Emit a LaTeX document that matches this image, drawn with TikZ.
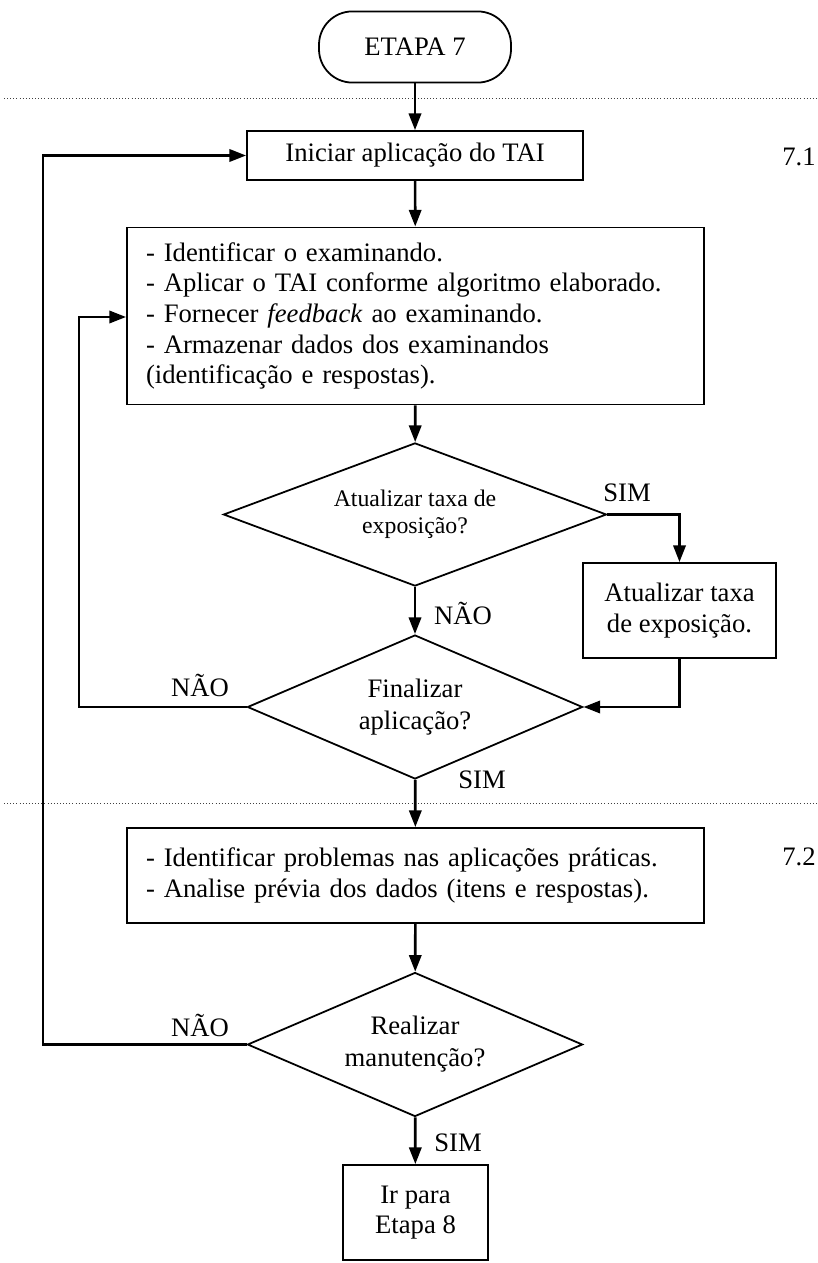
\documentclass[tikz,border=0pt]{standalone}
\usepackage{fontspec}
\setmainfont{Liberation Serif}
\usetikzlibrary{shapes.geometric,arrows.meta}

\begin{document}
\begin{tikzpicture}[x=0.45pt,y=-0.45pt,
  caixa/.style={draw,line width=0.8pt,inner sep=0pt,align=center,font=\fontsize{12}{13.8}\selectfont},
  losango/.style={draw,diamond,aspect=2.4,line width=0.8pt,inner sep=0pt,align=center,font=\fontsize{12}{14.4}\selectfont},
  rotulo/.style={inner sep=0pt,font=\fontsize{12}{13.8}\selectfont},
  seta/.style={line width=1.2pt,-{Triangle[length=7.5pt,width=5.5pt]}},
  divisa/.style={densely dotted,line width=0.4pt,black!75}]
\useasboundingbox (0,0) rectangle (818,1263);
\draw[divisa] (4,98) -- (818,98);
\draw[divisa] (4,803) -- (818,803);
\node[caixa,rounded corners=15pt,minimum width=86.4pt,minimum height=32pt] (etapa) at (415,47) {ETAPA 7};
\node[caixa,minimum width=151.2pt,minimum height=22pt] (iniciar) at (415,155.5) {Iniciar aplica\c{c}\~ao do TAI};
\node[caixa,align=left,text width=242.5pt,minimum width=259.7pt,minimum height=79.7pt,inner xsep=8.6pt] (passos) at (415.5,316) {- Identificar o examinando.\\- Aplicar o TAI conforme algoritmo elaborado.\\- Fornecer \textit{feedback} ao examinando.\\- Armazenar dados dos examinandos\\(identifica\c{c}\~ao e respostas).};
\node[losango,aspect=2.7,minimum width=172.4pt,minimum height=64.4pt,font=\fontsize{10.7}{12.2}\selectfont] (atual) at (415,514.5) {Atualizar taxa de\\exposi\c{c}\~ao?};
\node[caixa,minimum width=86.9pt,minimum height=42.75pt] (taxa) at (679.5,610.5) {Atualizar taxa\\de exposi\c{c}\~ao.};
\node[losango,minimum width=150.8pt,minimum height=64.8pt] (final) at (415,707) {Finalizar\\aplica\c{c}\~ao?};
\node[caixa,align=left,text width=242.5pt,minimum width=259.7pt,minimum height=42.75pt,inner xsep=8.6pt] (analise) at (415.5,875.5) {- Identificar problemas nas aplica\c{c}\~oes pr\'aticas.\\- Analise pr\'evia dos dados (itens e respostas).};
\node[losango,minimum width=150.8pt,minimum height=64.8pt] (manut) at (415,1044.5) {Realizar\\manuten\c{c}\~ao?};
\node[caixa,minimum width=65.3pt,minimum height=42.75pt] (fim) at (415.5,1212.5) {Ir para\\Etapa 8};
\node[rotulo] (num1) at (799,157) {7.1};
\node[rotulo] (num2) at (799,857) {7.2};
\node[rotulo] (simA) at (627,493) {SIM};
\node[rotulo] (naoA) at (463,613) {N\~AO};
\node[rotulo] (naoB) at (200,685) {N\~AO};
\node[rotulo] (simB) at (482,780) {SIM};
\node[rotulo] (naoC) at (200,1025) {N\~AO};
\node[rotulo] (simC) at (458,1143) {SIM};
\coordinate (volta1) at (79,317);
\coordinate (volta2) at (43,1044.5);
\draw[seta] (etapa) -- (iniciar);
\draw[seta] (iniciar) -- (passos);
\draw[seta] (passos) -- (atual);
\draw[seta] (atual.east) -| (taxa.north);
\draw[seta] (atual) -- (final);
\draw[seta] (taxa.south) |- (final.east);
\draw[seta] (final.west) -| (volta1) -- (passos.west |- volta1);
\draw[seta] (final) -- (analise);
\draw[seta] (analise) -- (manut);
\draw[seta] (manut.west) -- (volta2) |- (iniciar.west);
\draw[seta] (manut) -- (fim);
\end{tikzpicture}
\end{document}
